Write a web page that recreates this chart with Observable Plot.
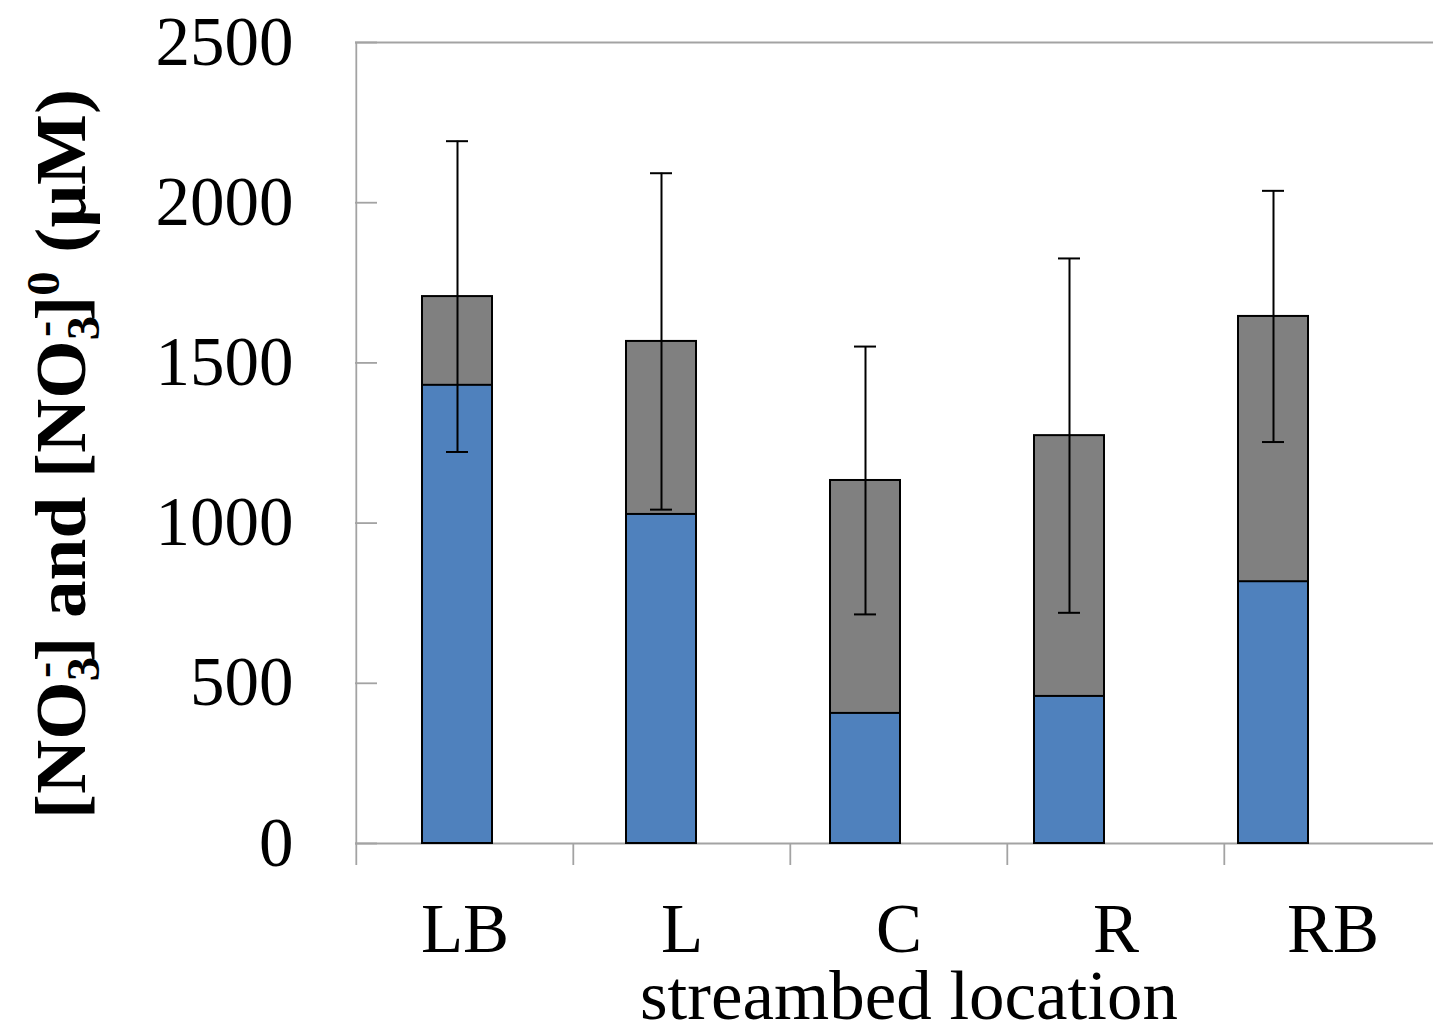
<!DOCTYPE html>
<html><head><meta charset="utf-8">
<script src="https://cdn.jsdelivr.net/npm/d3@7"></script>
<script src="https://cdn.jsdelivr.net/npm/@observablehq/plot@0.6"></script>
<style>
body{margin:0;background:#fff;}
#wrap{position:relative;width:1433px;height:1031px;overflow:hidden;background:#fff;}
#wrap svg{position:absolute;left:0;top:0;}
</style></head><body><div id="wrap"></div>
<script>
// ---- data ----
const categories = ["LB", "L", "C", "R", "RB"];
const no3 = [1430, 1027, 406, 459, 817];            // [NO3-]  (blue)
const no3Initial = [1707, 1567, 1133, 1273, 1645];  // [NO3-]0 (grey)
const no3InitialErr = [485, 525, 418, 553, 392];    // error bar half-length on [NO3-]0
const yTicks = [0, 500, 1000, 1500, 2000, 2500];

const rows = categories.map((c, i) => ({loc: c, no3: no3[i], no30: no3Initial[i], err: no3InitialErr[i]}));

// ---- layout ----
const W = 1433, H = 1031, mL = 355, mT = 42, mB = 188;
const axisColor = "#a3a3a3";
const serif = "'Liberation Serif','Times New Roman',serif";
const axisRight = 1442;                 // category axis runs a little past the right edge
const bw = (axisRight - mL) / categories.length;

const axes = Plot.plot({
  width: W, height: H,
  marginLeft: mL, marginRight: 0, marginTop: mT, marginBottom: mB,
  style: {fontFamily: serif, fontSize: "69px", color: "#000", background: "white", overflow: "hidden"},
  x: {type: "band", domain: categories, range: [mL, axisRight], padding: 0},
  y: {domain: [0, 2500]},
  marks: [
    Plot.ruleY([0, 2500], {stroke: axisColor, strokeWidth: 1.8}),
    Plot.ruleX([categories[0]], {x: d => d, dx: -bw / 2, y1: 2500, y2: 0, insetBottom: -22, stroke: axisColor, strokeWidth: 1.8}),
    Plot.ruleX(categories.slice(1), {x: d => d, dx: -bw / 2, y1: 0, y2: 0, insetBottom: -22, stroke: axisColor, strokeWidth: 1.8}),
    Plot.axisY({ticks: yTicks, tickFormat: "d", tickSize: -22, tickPadding: 84, stroke: axisColor, strokeWidth: 1.8, label: null}),
    Plot.axisX({tickSize: 0, tickPadding: 59, label: null})
  ]
});

const bars = Plot.plot({
  width: W, height: H,
  marginLeft: mL, marginRight: W - 1375, marginTop: mT, marginBottom: mB,
  style: {background: "transparent"},
  x: {type: "band", domain: categories, paddingInner: 0.657, paddingOuter: 0.3285, axis: null},
  y: {domain: [0, 2500], axis: null},
  marks: [
    Plot.barY(rows, {x: "loc", y: "no30", fill: "#808080", stroke: "#000", strokeWidth: 2}),
    Plot.barY(rows, {x: "loc", y: "no3", fill: "#4F81BD", stroke: "#000", strokeWidth: 2}),
    Plot.ruleX(rows, {x: "loc", y1: d => d.no30 - d.err, y2: d => d.no30 + d.err, stroke: "#000", strokeWidth: 2}),
    Plot.tickY(rows, {x: "loc", y: d => d.no30 + d.err, insetLeft: 24, insetRight: 24, stroke: "#000", strokeWidth: 2}),
    Plot.tickY(rows, {x: "loc", y: d => d.no30 - d.err, insetLeft: 24, insetRight: 24, stroke: "#000", strokeWidth: 2})
  ]
});

const wrap = document.getElementById("wrap");
wrap.appendChild(axes);
wrap.appendChild(bars);

// ---- axis titles (real text with sub/superscripts) ----
const svg = d3.select(axes);
const F = 71, S = 46;
const yl = svg.append("text")
  .attr("transform", "translate(85,454) rotate(-90)")
  .attr("text-anchor", "middle")
  .attr("textLength", 730).attr("lengthAdjust", "spacingAndGlyphs")
  .attr("font-family", serif).attr("font-weight", "bold")
  .attr("font-size", F).attr("fill", "#000");
function no3Group(sel) {
  sel.append("tspan").attr("font-size", F).text("[NO");
  sel.append("tspan").attr("font-size", S).attr("dy", 14).text("3");
  sel.append("tspan").attr("font-size", S).attr("dx", -20).attr("dy", -40).text("-");
  sel.append("tspan").attr("font-size", F).attr("dy", 26).text("]");
}
no3Group(yl);
yl.append("tspan").attr("font-size", F).text(" and ");
no3Group(yl);
yl.append("tspan").attr("font-size", S).attr("dy", -26).text("0");
yl.append("tspan").attr("font-size", F).attr("dy", 26).text(" (μM)");

svg.append("text")
  .attr("x", 640).attr("y", 1019)
  .attr("text-anchor", "start")
  .attr("font-family", serif).attr("font-size", 69).attr("fill", "#000")
  .attr("textLength", 538).attr("lengthAdjust", "spacingAndGlyphs")
  .text("streambed location");
</script></body></html>
